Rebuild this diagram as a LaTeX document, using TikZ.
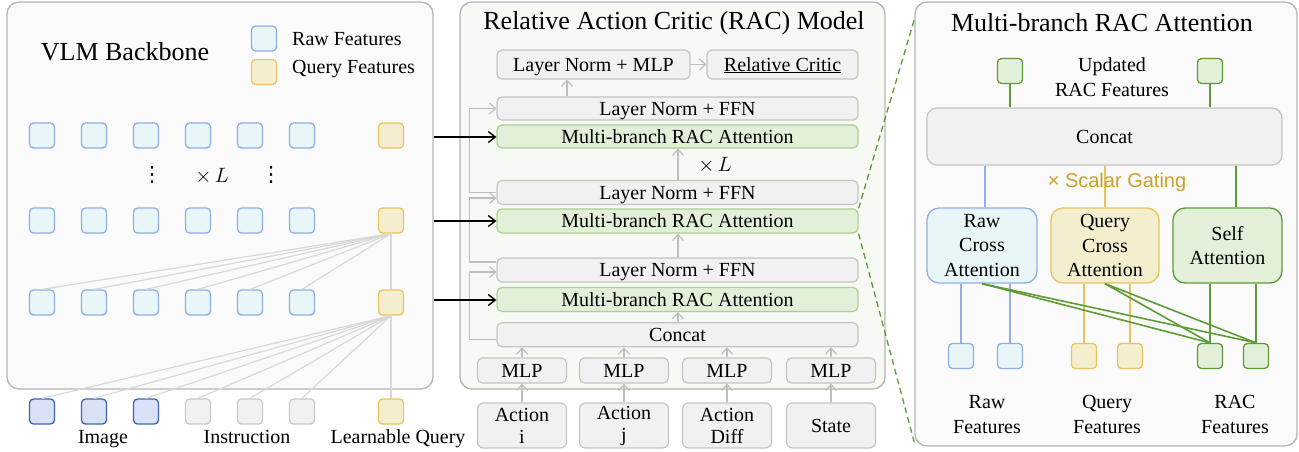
\documentclass[tikz,border=0pt]{standalone}
\usepackage{fontspec}
\setmainfont{Liberation Serif}
\newfontfamily\gsans{Liberation Sans}
\newfontfamily\djv{DejaVu Sans}
\usetikzlibrary{arrows.meta}
\definecolor{rawfill}{HTML}{E9F6F8}
\definecolor{rawdraw}{HTML}{8FAFE6}
\definecolor{qfill}{HTML}{F3EFCE}
\definecolor{qdraw}{HTML}{E8C35E}
\definecolor{imgfill}{HTML}{D8E1F5}
\definecolor{imgdraw}{HTML}{3F63B1}
\definecolor{insfill}{HTML}{F1F1F1}
\definecolor{insdraw}{HTML}{C9C9C9}
\definecolor{gfill}{HTML}{E2EFD9}
\definecolor{gdraw}{HTML}{5E9A35}
\definecolor{gdrawl}{HTML}{A9D18E}
\definecolor{boxfill}{HTML}{F1F1F1}
\definecolor{boxdraw}{HTML}{C4C4C4}
\definecolor{panelfill}{HTML}{FAFAFA}
\definecolor{midfill}{HTML}{F7F9F4}
\definecolor{paneldraw}{HTML}{B4B4B4}
\definecolor{lineg}{HTML}{D8D8D8}
\definecolor{arrowg}{HTML}{BEBEBE}
\definecolor{gate}{HTML}{C9A227}
\tikzset{
  sq/.style={draw, rounded corners=4pt, minimum size=25pt, inner sep=0pt, line width=1.3pt},
  rawsq/.style={sq, draw=rawdraw, fill=rawfill},
  qsq/.style={sq, draw=qdraw, fill=qfill},
  imgsq/.style={sq, draw=imgdraw, fill=imgfill},
  inssq/.style={sq, draw=insdraw, fill=insfill},
  gsq/.style={sq, draw=gdraw, fill=gfill},
  panel/.style={draw=paneldraw, fill=panelfill, rounded corners=12pt, line width=1.3pt, inner sep=0pt},
  box/.style={draw=boxdraw, fill=boxfill, rounded corners=5pt, line width=1.2pt, inner sep=0pt,
    font=\fontsize{20}{22}\selectfont, text height=14pt, text depth=1pt},
  mbox/.style={draw=boxdraw, fill=boxfill, rounded corners=6pt, line width=1.2pt, inner sep=0pt,
    font=\fontsize{20}{22}\selectfont, align=center},
  gbox/.style={box, draw=gdrawl, fill=gfill},
  txt/.style={inner sep=0pt, font=\fontsize{20}{24}\selectfont},
  dots/.style={inner sep=0pt, font=\djv\fontsize{21}{24}\selectfont},
  title/.style={inner sep=0pt, font=\fontsize{26}{30}\selectfont},
  thinl/.style={draw=lineg, line width=1.2pt},
  garr/.style={draw=arrowg, line width=1.2pt, -{Straight Barb[length=6pt,width=11pt]}},
  barr/.style={draw=black, line width=1.4pt, -{Straight Barb[length=7pt,width=11pt]}},
  gline/.style={draw=gdraw, line width=1.6pt},
  bline/.style={draw=rawdraw, line width=1.8pt},
  yline/.style={draw=qdraw, line width=1.8pt},
  branch/.style={rounded corners=12pt, line width=1.3pt, inner sep=0pt, align=center,
    font=\fontsize{20}{24.5}\selectfont},
}
\begin{document}
\begin{tikzpicture}[x=1pt,y=-1pt]
\useasboundingbox (0,0) rectangle (1299,451);
% ---------- panels ----------
\node[panel, minimum width=426pt, minimum height=387pt] (lp) at (220,195.5) {};
\node[panel, fill=midfill, minimum width=425pt, minimum height=387pt] (mp) at (672.5,195.5) {};
\node[panel, minimum width=382pt, minimum height=444pt] (rp) at (1106,224) {};
% ---------- left panel ----------
\node[title, anchor=base] (vlmt) at (125,60) {VLM Backbone};
\node[rawsq] (lg1) at (264,38.5) {};
\node[qsq] (lg2) at (264,72) {};
\node[txt, anchor=base west] (lgt1) at (292,45) {Raw Features};
\node[txt, anchor=base west] (lgt2) at (292,73) {Query Features};
\foreach \i/\x in {1/42,2/94,3/146,4/198,5/250,6/302}{
  \node[rawsq] (a\i) at (\x,135.5) {};
  \node[rawsq] (b\i) at (\x,220.5) {};
  \node[rawsq] (c\i) at (\x,302.5) {};
}
\foreach \i/\x in {1/42,2/94,3/146}{\node[imgsq] (d\i) at (\x,411.5) {};}
\foreach \i/\x in {4/198,5/250,6/302}{\node[inssq] (d\i) at (\x,411.5) {};}
\node[qsq] (qa) at (391,135.5) {};
\node[qsq] (qb) at (391,220.5) {};
\node[qsq] (qc) at (391,302.5) {};
\node[qsq] (qd) at (391,411.5) {};
\foreach \i in {1,...,6}{
  \draw[thinl] (qb.south) -- (c\i.north);
  \draw[thinl] (qc.south) -- (d\i.north);
}
\draw[thinl] (qb.south) -- (qc.north);
\draw[thinl] (qc.south) -- (qd.north);
\node[dots] (dt1) at (152,175) {⋮};
\node[dots] (dt2) at (271,175) {⋮};
\node[txt] (xl1) at (212,176) {$\times\,L$};
\node[txt, anchor=base] (imt) at (103,443) {Image};
\node[txt, anchor=base] (int) at (247,443) {Instruction};
\node[txt, anchor=base] (lqt) at (398,443) {Learnable Query};
% ---------- middle panel ----------
\node[title, anchor=base] (mt) at (674,29.5) {Relative Action Critic (RAC) Model};
\node[box, minimum width=193pt, minimum height=29pt] (lnmlp) at (593.5,64.5) {Layer Norm + MLP};
\node[box, minimum width=151pt, minimum height=29pt] (critic) at (782.5,64.5) {\underline{Relative Critic}};
\node[box, minimum width=361pt, minimum height=23pt] (ffn1) at (677.5,108.5) {Layer Norm + FFN};
\node[gbox, minimum width=361pt, minimum height=23pt] (mra1) at (677.5,136.5) {Multi-branch RAC Attention};
\node[box, minimum width=361pt, minimum height=24pt] (ffn2) at (677.5,192.5) {Layer Norm + FFN};
\node[gbox, minimum width=361pt, minimum height=24pt] (mra2) at (677.5,221) {Multi-branch RAC Attention};
\node[box, minimum width=361pt, minimum height=24pt] (ffn3) at (677.5,270) {Layer Norm + FFN};
\node[gbox, minimum width=361pt, minimum height=24pt] (mra3) at (677.5,299.5) {Multi-branch RAC Attention};
\node[box, minimum width=361pt, minimum height=24pt] (cat) at (677.5,334.7) {Concat};
\node[txt] (xl2) at (715,165) {$\times\,L$};
\foreach \i/\x/\t in {1/522/{Action\\i},2/624/{Action\\j},3/727/{Action\\Diff},4/831/{State}}{
  \node[box, minimum width=89pt, minimum height=25pt] (mlp\i) at (\x,370.5) {MLP};
  \node[mbox, minimum width=89pt, minimum height=45pt] (in\i) at (\x,425.5) {\t};
  \draw[garr] (in\i.north) -- (mlp\i.south);
  \draw[garr] (mlp\i.north) -- (mlp\i.north |- cat.south);
}
\coordinate (ax) at (567,0);
\coordinate (mx) at (678,0);
\draw[garr] (cat.north -| mx) -- (mra3.south -| mx);
\draw[garr] (ffn3.north -| mx) -- (mra2.south -| mx);
\draw[garr] (ffn2.north -| mx) -- (mra1.south -| mx);
\draw[garr] (ffn1.north -| ax) -- (lnmlp.south -| ax);
\draw[garr] (lnmlp.east) -- (critic.west);
% residual connections
\draw[garr] ([yshift=-5pt]cat.west) -- ++(-27,0) |- ([yshift=-2pt]ffn3.west);
\draw[garr] ([yshift=8pt]ffn3.west) -- ++(-27,0) |- ([yshift=-5.5pt]ffn2.west);
\draw[garr] (ffn2.west) -- ++(-27,0) |- (ffn1.west);
% black arrows from VLM
\coordinate (m1) at ([yshift=-0.5pt]mra1.west);
\coordinate (m3) at ([yshift=-0.5pt]mra3.west);
\draw[barr] (lp.east |- m1) -- (m1);
\draw[barr] (lp.east |- mra2.west) -- (mra2.west);
\draw[barr] (lp.east |- m3) -- (m3);
% dashed zoom lines
\coordinate (zt) at (915,17);
\coordinate (zb) at (915,445);
\draw[draw=gdraw, line width=1.3pt, dash pattern=on 6pt off 4pt] (mra2.north east) -- (zt);
\draw[draw=gdraw, line width=1.3pt, dash pattern=on 6pt off 4pt] (mra2.south east) -- (zb);
% ---------- right panel ----------
\node[title, anchor=base] (rt) at (1102,31.7) {Multi-branch RAC Attention};
\node[gsq] (u1) at (1010,71) {};
\node[gsq] (u2) at (1210,71) {};
\node[txt, anchor=base] (upt1) at (1112,71.7) {Updated};
\node[txt, anchor=base] (upt2) at (1112,96) {RAC Features};
\node[box, rounded corners=10pt, minimum width=355pt, minimum height=57pt] (cc) at (1104.5,136.5) {Concat};
\draw[gline] (u1.south) -- (u1.south |- cc.north);
\draw[gline] (u2.south) -- (u2.south |- cc.north);
\node[branch, draw=rawdraw, fill=rawfill, minimum width=110pt, minimum height=75pt] (rca) at (982,245.5) {Raw\\Cross\\Attention};
\node[branch, draw=qdraw, fill=qfill, minimum width=108pt, minimum height=75pt] (qca) at (1105,245.5) {Query\\Cross\\Attention};
\node[branch, draw=gdraw, fill=gfill, minimum width=109pt, minimum height=75pt] (sa) at (1227.5,245.5) {Self\\Attention};
\draw[bline] ([xshift=3pt]rca.north |- cc.south) -- ([xshift=3pt]rca.north);
\draw[yline] (qca.north |- cc.south) -- (qca.north);
\draw[gline] ([xshift=8.5pt]sa.north |- cc.south) -- ([xshift=8.5pt]sa.north);
\node[inner sep=0pt, font=\gsans\fontsize{20}{24}\selectfont, text=gate] (gt) at (1117,182) {× Scalar Gating};
\node[rawsq] (rf1) at (961,356) {};
\node[rawsq] (rf2) at (1010,356) {};
\node[qsq] (qf1) at (1084,356) {};
\node[qsq] (qf2) at (1130,356) {};
\node[gsq] (gf1) at (1210,356) {};
\node[gsq] (gf2) at (1256,356) {};
\draw[bline] (rf1.north |- rca.south) -- (rf1.north);
\draw[bline] (rf2.north |- rca.south) -- (rf2.north);
\draw[yline] (qf1.north |- qca.south) -- (qf1.north);
\draw[yline] (qf2.north |- qca.south) -- (qf2.north);
\draw[gline] (gf1.north |- sa.south) -- (gf1.north);
\draw[gline] (gf2.north |- sa.south) -- (gf2.north);
\draw[gline] (rca.south) -- (gf1.north);
\draw[gline] (rca.south) -- (gf2.north);
\draw[gline] (qca.south) -- (gf1.north);
\draw[gline] (qca.south) -- (gf2.north);
\node[txt, anchor=base] (rft1) at (987,408) {Raw};
\node[txt, anchor=base] (rft2) at (987,433) {Features};
\node[txt, anchor=base] (qft1) at (1107,408) {Query};
\node[txt, anchor=base] (qft2) at (1107,433) {Features};
\node[txt, anchor=base] (gft1) at (1235,408) {RAC};
\node[txt, anchor=base] (gft2) at (1235,433) {Features};
\end{tikzpicture}
\end{document}
